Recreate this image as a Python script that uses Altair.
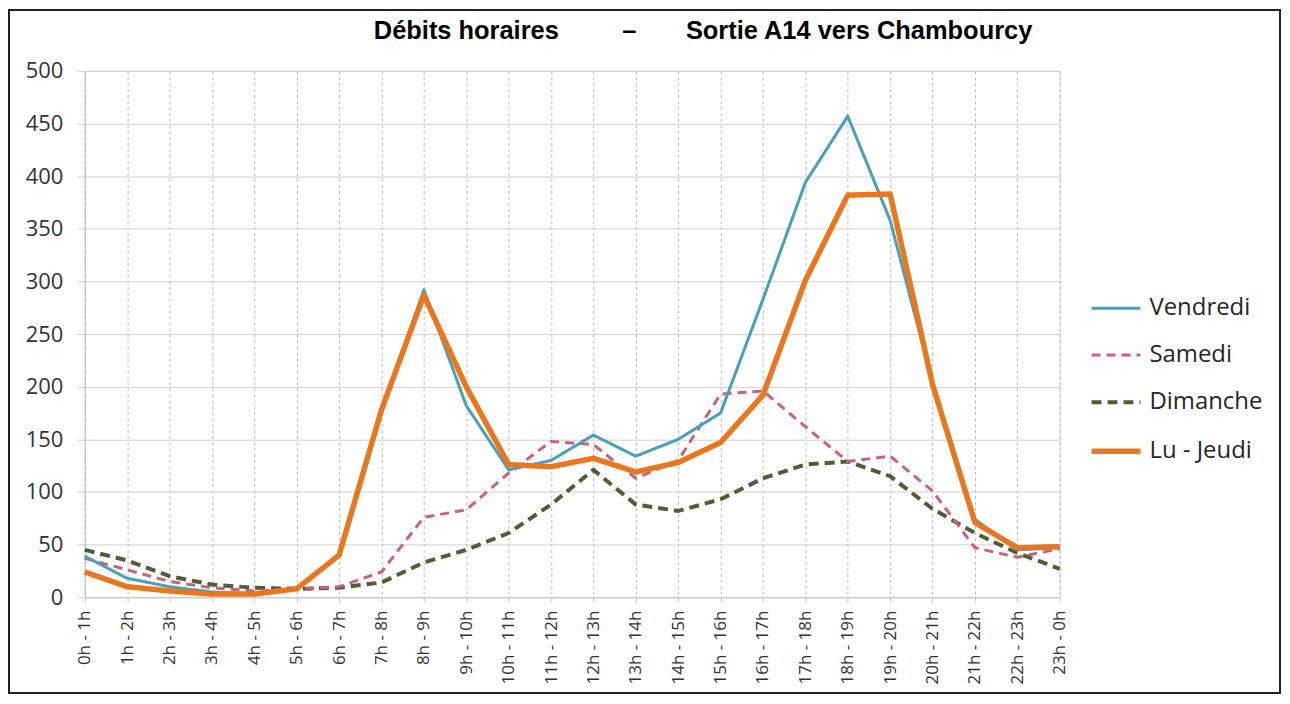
import altair as alt
import pandas as pd

hours = ["0h - 1h", "1h - 2h", "2h - 3h", "3h - 4h", "4h - 5h", "5h - 6h",
         "6h - 7h", "7h - 8h", "8h - 9h", "9h - 10h", "10h - 11h", "11h - 12h",
         "12h - 13h", "13h - 14h", "14h - 15h", "15h - 16h", "16h - 17h", "17h - 18h",
         "18h - 19h", "19h - 20h", "20h - 21h", "21h - 22h", "22h - 23h", "23h - 0h"]

vendredi = [39, 18, 10, 5, 3, 8, 40, 175, 292, 182, 121, 130, 154, 134, 150, 175, 283, 394, 457, 358, 204, 74, 45, 47]
samedi = [37, 26, 15, 9, 6, 8, 10, 24, 76, 83, 118, 148, 145, 113, 130, 193, 196, 162, 129, 134, 101, 47, 38, 46]
dimanche = [45, 35, 20, 12, 9, 8, 9, 14, 33, 45, 61, 88, 121, 88, 82, 93, 113, 126, 129, 115, 84, 61, 42, 27]
lu_jeudi = [24, 10, 6, 3, 3, 8, 40, 178, 287, 200, 126, 124, 132, 119, 128, 147, 192, 301, 382, 383, 202, 71, 47, 48]

series = ["Vendredi", "Samedi", "Dimanche", "Lu - Jeudi"]
colors = ["#4a9fb8", "#c8627a", "#4f5e36", "#e8771f"]
dashes = [[1, 0], [9, 6], [10, 6], [1, 0]]
widths = [3, 3, 4, 5.5]

title_parts = ["Débits horaires", "–", "Sortie A14 vers Chambourcy"]

# drawing order: Dimanche, Samedi, Vendredi, Lu - Jeudi (orange on top)
draw_order = [("Dimanche", dimanche), ("Samedi", samedi), ("Vendredi", vendredi), ("Lu - Jeudi", lu_jeudi)]
rows = []
for name, vals in draw_order:
    for h, v in zip(hours, vals):
        rows.append({"Heure": h, "Débit": v, "Série": name})
df = pd.DataFrame(rows)

W, H = 978, 528
PAD_L, PAD_T, PAD_R, PAD_B = 77, 62, 223, 98

title_text = title_parts[0] + "\u00a0" * 9 + title_parts[1] + "\u00a0" * 7 + title_parts[2]


def leg():
    return alt.Legend(title=None, orient="none", legendX=1007, legendY=212,
                      symbolType="stroke", symbolSize=2400,
                      labelFont="Open Sans", labelFontSize=24,
                      labelColor="#262626", rowPadding=9, labelOffset=6)


lines = alt.Chart(df).mark_line(strokeJoin="round").encode(
    x=alt.X("Heure:N", sort=hours, scale=alt.Scale(type="point", padding=0),
            axis=alt.Axis(title=None, labelAngle=-90, labelFont="Open Sans", labelFontSize=17,
                          labelColor="#333333", labelPadding=8, grid=True, gridDash=[3, 3],
                          gridColor="#b8b8b8", gridWidth=1, domainColor="#c8c8c8",
                          tickColor="#c8c8c8", tickSize=5, labelOverlap=False)),
    y=alt.Y("Débit:Q", scale=alt.Scale(domain=[0, 500], nice=False),
            axis=alt.Axis(title=None, values=list(range(0, 501, 50)), grid=True,
                          gridColor="#d0d0d0", gridWidth=1, tickColor="#d0d0d0", tickSize=8,
                          domainColor="#a9c4e0", labelFont="Open Sans", labelFontSize=22,
                          labelColor="#333333", labelPadding=14)),
    color=alt.Color("Série:N", scale=alt.Scale(domain=series, range=colors), legend=leg()),
    strokeDash=alt.StrokeDash("Série:N", scale=alt.Scale(domain=series, range=dashes), legend=leg()),
    strokeWidth=alt.StrokeWidth("Série:N",
                                scale=alt.Scale(type="ordinal", domain=series, range=widths),
                                legend=leg()),
)

frame = alt.Chart(pd.DataFrame({"f": [0]})).mark_rect(
    fillOpacity=0, stroke="#222222", strokeWidth=2
).encode(
    x=alt.value(-PAD_L + 1), x2=alt.value(W + PAD_R - 2),
    y=alt.value(-PAD_T + 1), y2=alt.value(H + PAD_B - 2),
)

title = alt.Chart(pd.DataFrame({"t": [title_text]})).mark_text(
    align="left", baseline="alphabetic", font="Liberation Sans", fontSize=25.5,
    fontWeight="bold", color="#000000"
).encode(text="t:N", x=alt.value(290), y=alt.value(-32))

chart = alt.layer(frame, lines, title).properties(
    width=W, height=H,
    autosize=alt.AutoSizeParams(type="none"),
    padding={"left": PAD_L, "top": PAD_T, "right": PAD_R, "bottom": PAD_B},
).configure_view(stroke=None).configure(background="white")

chart.save("out.html", embed_options={"renderer": "svg", "actions": False})
